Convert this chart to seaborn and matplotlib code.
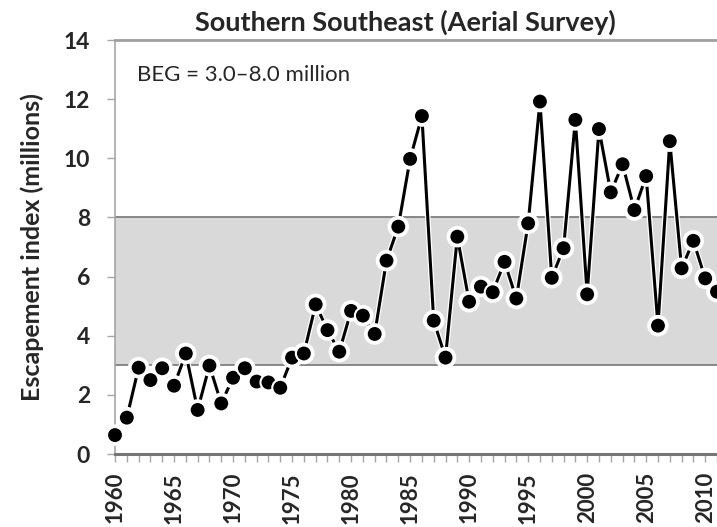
import matplotlib
matplotlib.use("Agg")
import matplotlib.pyplot as plt
import matplotlib.patheffects as pe
import pandas as pd
import seaborn as sns

# escapement index (millions)
years = list(range(1960, 2012))
escapement = [
    0.64, 1.23, 2.92, 2.50, 2.90, 2.31, 3.40, 1.49, 2.99, 1.71,
    2.58, 2.90, 2.45, 2.42, 2.24, 3.26, 3.40, 5.06, 4.19, 3.46,
    4.84, 4.68, 4.06, 6.54, 7.69, 9.98, 11.43, 4.51, 3.26, 7.35,
    5.15, 5.66, 5.47, 6.50, 5.26, 7.80, 11.92, 5.96, 6.96, 11.30,
    5.40, 10.99, 8.85, 9.80, 8.25, 9.40, 4.34, 10.58, 6.28, 7.21,
    5.94, 5.49,
]
beg_low, beg_high = 3.0, 8.0
x_labels = list(range(1960, 2011, 5))
y_ticks = list(range(0, 15, 2))

df = pd.DataFrame({"year": years, "esc": escapement})

sns.set_style("ticks")
plt.rcParams["font.family"] = ["Lato", "DejaVu Sans"]

fig = plt.figure(figsize=(7.17, 5.27), dpi=100)
ax = fig.add_axes([0.1604, 0.1385, 0.8396, 0.7855])

# BEG band
ax.axhspan(beg_low, beg_high, color="#d9d9d9", zorder=0, lw=0)
ax.axhline(beg_low, color="#7f7f7f", lw=1.3, zorder=1)
ax.axhline(beg_high, color="#7f7f7f", lw=1.3, zorder=1)

sns.lineplot(
    data=df, x="year", y="esc", ax=ax,
    color="black", lw=2.2, marker="o", markersize=11.5,
    markerfacecolor="black", markeredgecolor="white", markeredgewidth=1.5,
    clip_on=False, zorder=3,
)
ax.lines[-1].set_path_effects([pe.Stroke(linewidth=4, foreground="white"), pe.Normal()])

ax.set_xlim(1960, 2011)
ax.set_ylim(0, 14)
ax.set_yticks(y_ticks)
ax.set_xticks(x_labels)
ax.set_xticks(years, minor=True)
ax.set_xticklabels([str(y) for y in x_labels], rotation=90, fontweight="bold", fontsize=16)
ax.set_yticklabels([str(v) for v in y_ticks], fontweight="bold", fontsize=16.5)
ax.tick_params(axis="y", length=6, color="#a6a6a6", width=1, pad=12)
ax.tick_params(axis="x", which="both", length=6, color="#a6a6a6", width=1, pad=7)

ax.spines["left"].set_color("#a6a6a6")
ax.spines["left"].set_linewidth(1.2)
ax.spines["top"].set_color("#a0a0a0")
ax.spines["top"].set_linewidth(2)
ax.spines["bottom"].set_color("#767676")
ax.spines["bottom"].set_linewidth(2.2)
ax.spines["right"].set_visible(False)

ax.set_xlabel("")
ax.set_ylabel("Escapement index (millions)", fontweight="bold", fontsize=18, labelpad=14)
ax.set_title("Southern Southeast (Aerial Survey)", fontweight="bold", fontsize=19.5,
             pad=7, x=0.482)
ax.text(0.036, 0.915, "BEG = 3.0\u20138.0 million", transform=ax.transAxes,
        fontsize=16, va="center", ha="left")

fig.savefig("out.png", dpi=100)
